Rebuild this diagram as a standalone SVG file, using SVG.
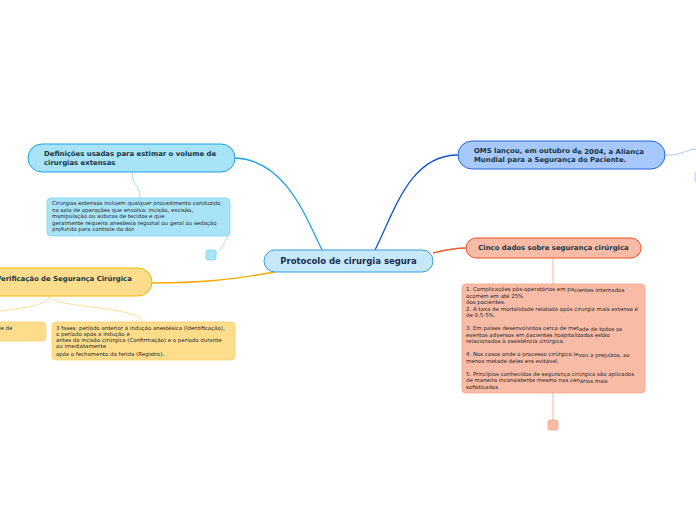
<svg xmlns="http://www.w3.org/2000/svg" width="696" height="520" viewBox="0 0 696 520">
<style>
text{font-family:"DejaVu Sans","Verdana",sans-serif;}
.t{font-weight:bold;font-size:6.9px;fill:#173540;}
.s{font-size:5.45px;fill:#262626;}
.c{fill:none;stroke-width:1.3;}
.cl{fill:none;stroke-width:0.8;}
</style>
<rect width="696" height="520" fill="#ffffff"/>
<g id="connectors">
<path class="c" d="M322,250 C305,215 285,160 235,158" stroke="#1ea1e0"/>
<path class="c" d="M375,250 C395,210 410,155 458,155" stroke="#1155cc"/>
<path class="c" d="M275,272 C230,280 200,283 152,283" stroke="#f5ab00"/>
<path class="c" d="M433,253 C445,250 455,248 466,248" stroke="#e85a28"/>
<path class="cl" d="M132,172 C132,186 140,184 140,198" stroke="#8fd6f2"/>
<path class="cl" d="M228,236 C222,246 222,250 216,254" stroke="#8fd6f2"/>
<path class="cl" d="M49,296 C49,306 20,308 -5,312" stroke="#fbd680"/>
<path class="cl" d="M49,296 C50,308 140,306 143,322" stroke="#fbd680"/>
<path class="cl" d="M665,155 C680,156 685,150 696,149" stroke="#9ab8e8"/>
<path class="cl" d="M553,258 L553,284" stroke="#f5a58a"/>
<path class="cl" d="M553,393 L553,420" stroke="#f5a58a"/>
</g>
<g id="center">
<rect x="264" y="250" width="169" height="22" rx="11" fill="#c5e9fb" stroke="#3a9fd6" stroke-width="1"/>
<text x="348.5" y="264" text-anchor="middle" style="font-weight:bold;font-size:8.5px;fill:#1b2b4d">Protocolo de cirurgia segura</text>
</g>
<g id="definicoes">
<rect x="28" y="144" width="207" height="28" rx="14" fill="#a8e3f8" stroke="#1ea1e0" stroke-width="1"/>
<text class="t" x="44" y="156">Definições usadas para estimar o volume de</text>
<text class="t" x="44" y="165">cirurgias extensas</text>
</g>
<g id="definicoes-detalhe">
<rect x="47" y="198" width="183" height="38" rx="4" fill="#a8e3f8" stroke="#80d2f3" stroke-width="0.8"/>
<text class="s" x="52" y="205">Cirurgias extensas incluem qualquer procedimento conduzido</text>
<text class="s" x="52" y="212">na sala de operações que envolva: incisão, excisão,</text>
<text class="s" x="52" y="218">manipulação ou suturas de tecidos e que</text>
<text class="s" x="52" y="225">geralmente requeira anestesia regional ou geral ou sedação</text>
<text class="s" x="52" y="231">profunda para controle da dor.</text>
</g>
<g id="definicoes-extra">
<rect x="206" y="250" width="10" height="10" rx="2" fill="#a8e3f8" stroke="#80d2f3" stroke-width="0.8"/>
</g>
<g id="verificacao">
<rect x="-60" y="268" width="212" height="28" rx="14" fill="#fddc8c" stroke="#f5b800" stroke-width="1"/>
<text class="t" x="-4" y="281">Verificação de Segurança Cirúrgica</text>
</g>
<g id="verificacao-esq">
<rect x="-100" y="322" width="146" height="19" rx="4" fill="#fddc8c" stroke="#fbd070" stroke-width="0.8"/>
<text class="s" x="-3" y="330">de de</text>
</g>
<g id="verificacao-fases">
<rect x="52" y="322" width="183" height="38" rx="4" fill="#fddc8c" stroke="#fbd070" stroke-width="0.8"/>
<text class="s" x="56" y="330">3 fases: período anterior à indução anestésica (Identificação),</text>
<text class="s" x="56" y="336">o período após a indução e</text>
<text class="s" x="56" y="342"> antes da incisão cirúrgica (Confirmação) e o período durante</text>
<text class="s" x="56" y="348">ou imediatamente</text>
<text class="s" x="56" y="356">após o fechamento da ferida (Registro).</text>
</g>
<g id="oms">
<rect x="458" y="141" width="207" height="28" rx="14" fill="#a6c8fb" stroke="#2266dd" stroke-width="1"/>
<text class="t" x="474" y="153">OMS lançou, em outubro d<tspan dy="1">e 2004, a Aliança</tspan></text>
<text class="t" x="474" y="162">Mundial para a Segurança do Paciente.</text>
</g>
<g id="oms-extra">
<rect x="695" y="172" width="10" height="10" rx="2" fill="#dbe6fb" stroke="#b4c9f0" stroke-width="0.8"/>
</g>
<g id="cinco">
<rect x="466" y="238" width="175" height="20" rx="10" fill="#f8bba6" stroke="#ee5522" stroke-width="1"/>
<text class="t" x="553.5" y="250" text-anchor="middle">Cinco dados sobre segurança cirúrgica</text>
</g>
<g id="cinco-detalhe">
<rect x="462" y="284" width="183" height="109" rx="4" fill="#f8bba6" stroke="#f5a58a" stroke-width="0.8"/>
<text class="s" x="466" y="291">1. Complicações pós-operatórios em pa<tspan dy="1">cientes internados</tspan></text>
<text class="s" x="466" y="298">ocorrem em até 25%</text>
<text class="s" x="466" y="304">dos pacientes.</text>
<text class="s" x="466" y="311">2. A taxa de mortalidade relatada após cirurgia mais extensa é</text>
<text class="s" x="466" y="317">de 0.5-5%.</text>
<text class="s" x="466" y="330">3. Em países desenvolvidos cerca de met<tspan dy="1">ade de todos os</tspan></text>
<text class="s" x="466" y="337">eventos adversos em pacientes hospitalizados estão</text>
<text class="s" x="466" y="343">relacionados à assistência cirúrgica.</text>
<text class="s" x="466" y="356">4. Nos casos onde o processo cirúrgico le<tspan dy="1">vou a prejuízos, ao</tspan></text>
<text class="s" x="466" y="363">menos metade deles era evitável.</text>
<text class="s" x="466" y="376">5. Princípios conhecidos de segurança cirúrgica são aplicados</text>
<text class="s" x="466" y="382">de maneira inconsistente mesmo nos cen<tspan dy="1">ários mais</tspan></text>
<text class="s" x="466" y="389">sofisticados</text>
</g>
<g id="cinco-extra">
<rect x="548" y="420" width="10" height="10" rx="2" fill="#f8bba6" stroke="#f5a58a" stroke-width="0.8"/>
</g>
</svg>
